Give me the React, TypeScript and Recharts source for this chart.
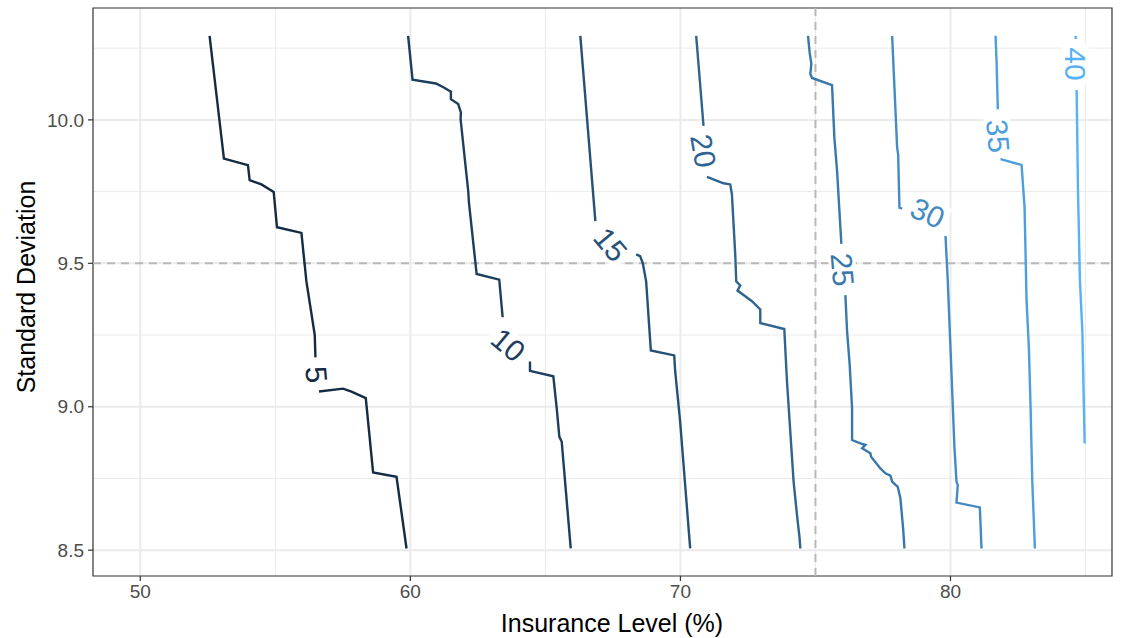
import {
  ComposedChart,
  Line,
  Scatter,
  XAxis,
  YAxis,
  CartesianGrid,
  ReferenceLine,
  ReferenceArea,
} from "recharts";

// #region Contour data (insurance level %, standard deviation)

type Pt = { x: number; y: number };
const pts = (a: number[][]): Pt[] => a.map(([x, y]) => ({ x, y }));

const level5Top = [
  [52.567, 10.293], [53.097, 9.865], [53.987, 9.842], [54.05, 9.79], [54.484, 9.775],
  [54.94, 9.749], [55.062, 9.626], [55.967, 9.606], [56.152, 9.437], [56.46, 9.251],
  [56.486, 9.172],
];
const level5Bottom = [
  [56.619, 9.053], [57.509, 9.063], [57.82, 9.053], [58.35, 9.03], [58.621, 8.771],
  [59.488, 8.756], [59.859, 8.506],
];

const level10Top = [
  [59.918, 10.293], [60.081, 10.14], [60.945, 10.127], [61.241, 10.113], [61.501, 10.098],
  [61.501, 10.072], [61.772, 10.055], [61.872, 10.026], [61.861, 10.002], [62.143, 9.752],
  [62.169, 9.712], [62.454, 9.463], [63.292, 9.443], [63.418, 9.312],
];
const level10Bottom = [
  [64.43, 9.158], [64.43, 9.125], [65.294, 9.106], [65.42, 8.995], [65.516, 8.896],
  [65.605, 8.878], [65.939, 8.506],
];

const level15Top = [
  [66.294, 10.293], [66.851, 9.647],
];
const level15Bottom = [
  [68.36, 9.531], [68.508, 9.525], [68.608, 9.5], [68.731, 9.437], [68.905, 9.196],
  [69.77, 9.179], [69.807, 9.123], [69.99, 8.948], [70.361, 8.506],
];

const level20Top = [
  [70.584, 10.293], [70.855, 9.979],
];
const level20Bottom = [
  [70.981, 9.801], [71.596, 9.779], [71.845, 9.775], [71.907, 9.74], [72.03, 9.531],
  [72.067, 9.437], [72.215, 9.423], [72.115, 9.405], [72.649, 9.368], [72.957, 9.339],
  [72.957, 9.292], [73.846, 9.271], [73.946, 9.088], [74.191, 8.739], [74.317, 8.622],
  [74.413, 8.541], [74.439, 8.506],
];

const level25Top = [
  [74.725, 10.293], [74.784, 10.235], [74.847, 10.195], [74.81, 10.16], [74.873, 10.146],
  [75.614, 10.121], [75.7, 9.938], [75.8, 9.822], [75.959, 9.568],
];
const level25Bottom = [
  [76.108, 9.389], [76.171, 9.263], [76.267, 9.147], [76.356, 8.995], [76.356, 8.884],
  [76.664, 8.872], [76.849, 8.867], [76.727, 8.855], [77.034, 8.838], [77.06, 8.826],
  [77.405, 8.785], [77.59, 8.768], [77.776, 8.76], [77.839, 8.739], [78.046, 8.721],
  [78.146, 8.68], [78.247, 8.575], [78.295, 8.506],
];

const level30Top = [
  [77.839, 10.293], [77.925, 10.113], [78.024, 9.903], [78.062, 9.88], [78.11, 9.694],
  [78.21, 9.691],
];
const level30Bottom = [
  [79.815, 9.595], [79.9, 9.437], [80.0, 9.204], [80.148, 8.855], [80.222, 8.739],
  [80.27, 8.727], [80.222, 8.666], [81.086, 8.649], [81.149, 8.506],
];

const level35Top = [
  [81.668, 10.293], [81.705, 10.206], [81.753, 10.037],
];
const level35Bottom = [
  [81.853, 9.863], [82.632, 9.843], [82.743, 9.694], [82.817, 9.368], [82.903, 9.204],
  [82.966, 8.995], [83.029, 8.739], [83.125, 8.506],
];

const level40Top = [
  [84.634, 10.293], [84.634, 10.282],
];
const level40Bottom = [
  [84.671, 10.104], [84.719, 9.763], [84.793, 9.437], [84.882, 9.263], [84.968, 8.872],
];

// contour label placements: level, position, text angle
const contourLabels = [
  { level: 5, x: 56.53, y: 9.112, angle: 85 },
  { level: 10, x: 63.63, y: 9.216, angle: 40 },
  { level: 15, x: 67.42, y: 9.566, angle: 50 },
  { level: 20, x: 70.86, y: 9.892, angle: 80 },
  { level: 25, x: 76.01, y: 9.478, angle: 85 },
  { level: 30, x: 79.16, y: 9.676, angle: 25 },
  { level: 35, x: 81.77, y: 9.944, angle: 85 },
  { level: 40, x: 84.63, y: 10.195, angle: 90 },
];

const xTicks = [50, 60, 70, 80];
const xMinor = [55, 65, 75, 85];
const yTicks = [8.5, 9.0, 9.5, 10.0];
const yMinor = [8.75, 9.25, 9.75, 10.25];

// #endregion

const segments = [
  { level: 5, data: pts(level5Top) },
  { level: 5, data: pts(level5Bottom) },
  { level: 10, data: pts(level10Top) },
  { level: 10, data: pts(level10Bottom) },
  { level: 15, data: pts(level15Top) },
  { level: 15, data: pts(level15Bottom) },
  { level: 20, data: pts(level20Top) },
  { level: 20, data: pts(level20Bottom) },
  { level: 25, data: pts(level25Top) },
  { level: 25, data: pts(level25Bottom) },
  { level: 30, data: pts(level30Top) },
  { level: 30, data: pts(level30Bottom) },
  { level: 35, data: pts(level35Top) },
  { level: 35, data: pts(level35Bottom) },
  { level: 40, data: pts(level40Top) },
  { level: 40, data: pts(level40Bottom) },
];

// ggplot default continuous blues, low -> high
const low = [0x13, 0x2b, 0x43];
const high = [0x56, 0xb1, 0xf7];
const levelColor = (level: number) => {
  const t = (level - 5) / 35;
  const c = low.map((l, i) => Math.round(l + (high[i] - l) * t));
  return `rgb(${c[0]},${c[1]},${c[2]})`;
};

const X_DOMAIN: [number, number] = [48.25, 85.98];
const Y_DOMAIN: [number, number] = [8.41, 10.39];
const FONT = "'Liberation Sans', Arial, Helvetica, sans-serif";
const LABEL_SIZE = 30;

const ContourLabel = (props: any) => {
  const { cx, cy, payload } = props;
  const text = String(payload.level);
  const w = text.length * LABEL_SIZE * 0.556 + 8;
  const h = LABEL_SIZE * 0.9;
  return (
    <g transform={`translate(${cx},${cy}) rotate(${payload.angle})`}>
      <rect x={-w / 2} y={-h / 2} width={w} height={h} fill="#ffffff" />
      <text
        x={0}
        y={0}
        dy="0.36em"
        textAnchor="middle"
        fontSize={LABEL_SIZE}
        fontFamily={FONT}
        fill={levelColor(payload.level)}
      >
        {text}
      </text>
    </g>
  );
};

const App = () => {
  return (
    <div style={{ position: "absolute", left: 0, top: 0, background: "#fff" }}>
      <ComposedChart
        width={1123}
        height={638}
        margin={{ top: 8, right: 11, left: 0, bottom: 0 }}
        style={{ fontFamily: FONT }}
      >
        <CartesianGrid
          verticalValues={xMinor}
          horizontalValues={yMinor}
          stroke="#EBEBEB"
          strokeWidth={1}
        />
        <CartesianGrid
          verticalValues={xTicks}
          horizontalValues={yTicks}
          stroke="#EBEBEB"
          strokeWidth={2}
        />
        <XAxis
          dataKey="x"
          type="number"
          domain={X_DOMAIN}
          allowDataOverflow
          ticks={xTicks}
          height={62}
          axisLine={false}
          tickLine={{ stroke: "#333333", strokeWidth: 1.2 }}
          tickSize={5}
          tickMargin={4}
          tick={{ fill: "#4D4D4D", fontSize: 19, fontFamily: FONT }}
          label={() => (
            <text
              x={612}
              y={632}
              textAnchor="middle"
              fontSize={25}
              fontFamily={FONT}
              fill="#000"
            >
              Insurance Level (%)
            </text>
          )}
        />
        <YAxis
          dataKey="y"
          type="number"
          domain={Y_DOMAIN}
          allowDataOverflow
          ticks={yTicks}
          width={93}
          axisLine={false}
          tickLine={{ stroke: "#333333", strokeWidth: 1.2 }}
          tickSize={5}
          tickMargin={4}
          tickFormatter={(v: number) => v.toFixed(1)}
          tick={{ fill: "#4D4D4D", fontSize: 19, fontFamily: FONT }}
          label={() => (
            <text
              x={0}
              y={0}
              transform="translate(35,287) rotate(-90)"
              textAnchor="middle"
              fontSize={25}
              fontFamily={FONT}
              fill="#000"
            >
              Standard Deviation
            </text>
          )}
        />
        <ReferenceLine x={75} stroke="#B8B8B8" strokeWidth={2} strokeDasharray="8 6" />
        <ReferenceLine y={9.5} stroke="#B8B8B8" strokeWidth={2} strokeDasharray="8 6" />
        {segments.map((s, i) => (
          <Line
            key={i}
            data={s.data}
            dataKey="y"
            type="linear"
            dot={false}
            activeDot={false}
            stroke={levelColor(s.level)}
            strokeWidth={2.4}
            isAnimationActive={false}
          />
        ))}
        <Scatter
          data={contourLabels}
          dataKey="y"
          shape={ContourLabel}
          isAnimationActive={false}
        />
        <ReferenceArea
          x1={X_DOMAIN[0]}
          x2={X_DOMAIN[1]}
          y1={Y_DOMAIN[0]}
          y2={Y_DOMAIN[1]}
          fill="none"
          stroke="#333333"
          strokeWidth={1.2}
          ifOverflow="visible"
        />
      </ComposedChart>
    </div>
  );
};

export default App;
